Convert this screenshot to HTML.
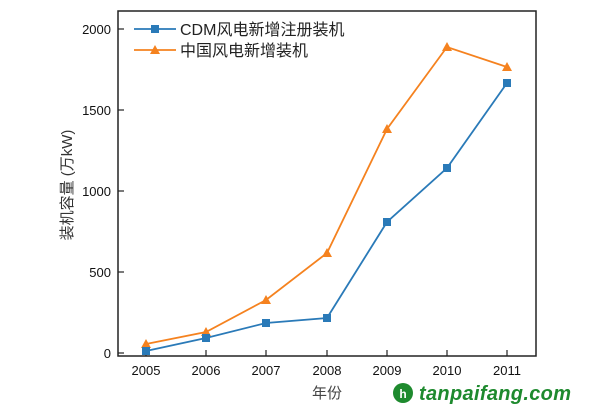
<!DOCTYPE html>
<html><head><meta charset="utf-8"><style>
html,body{margin:0;padding:0;background:#fff;width:600px;height:413px;overflow:hidden}
</style></head><body>
<svg width="600" height="413" viewBox="0 0 600 413" xmlns="http://www.w3.org/2000/svg" font-family="'Liberation Sans','Noto Sans CJK SC',sans-serif">
<rect x="118" y="11" width="418" height="345" fill="none" stroke="#222" stroke-width="1.5"/>
<g stroke="#222" stroke-width="1.2">
<line x1="118" y1="353" x2="124" y2="353"/><line x1="118" y1="272" x2="124" y2="272"/>
<line x1="118" y1="191" x2="124" y2="191"/><line x1="118" y1="110" x2="124" y2="110"/>
<line x1="118" y1="29" x2="124" y2="29"/>
<line x1="146" y1="356" x2="146" y2="350"/><line x1="206" y1="356" x2="206" y2="350"/>
<line x1="266" y1="356" x2="266" y2="350"/><line x1="327" y1="356" x2="327" y2="350"/>
<line x1="387" y1="356" x2="387" y2="350"/><line x1="447" y1="356" x2="447" y2="350"/>
<line x1="507" y1="356" x2="507" y2="350"/>
</g>
<g font-size="13" fill="#111" text-anchor="end">
<text x="111" y="358">0</text><text x="111" y="277">500</text><text x="111" y="196">1000</text>
<text x="111" y="115">1500</text><text x="111" y="34">2000</text>
</g>
<g font-size="13" fill="#111" text-anchor="middle">
<text x="146" y="375">2005</text><text x="206" y="375">2006</text><text x="266" y="375">2007</text>
<text x="327" y="375">2008</text><text x="387" y="375">2009</text><text x="447" y="375">2010</text><text x="507" y="375">2011</text>
</g>
<text x="327" y="398" font-size="15" fill="#444" text-anchor="middle">年份</text>
<text transform="translate(72,185) rotate(-90)" font-size="15" fill="#333" text-anchor="middle">装机容量 (万kW)</text>
<polyline fill="none" stroke="#f5821f" stroke-width="1.8" points="146,344 206,332 266,300 327,253 387,129 447,47 507,67"/>
<g fill="#f5821f">
<polygon points="146,339 141,348 151,348"/><polygon points="206,327 201,336 211,336"/>
<polygon points="266,295 261,304 271,304"/><polygon points="327,248 322,257 332,257"/>
<polygon points="387,124 382,133 392,133"/><polygon points="447,42 442,51 452,51"/>
<polygon points="507,62 502,71 512,71"/>
</g>
<polyline fill="none" stroke="#2a7ab8" stroke-width="1.8" points="146,351 206,338 266,323 327,318 387,222 447,168 507,83"/>
<g fill="#2a7ab8">
<rect x="142" y="347" width="8" height="8"/><rect x="202" y="334" width="8" height="8"/>
<rect x="262" y="319" width="8" height="8"/><rect x="323" y="314" width="8" height="8"/>
<rect x="383" y="218" width="8" height="8"/><rect x="443" y="164" width="8" height="8"/>
<rect x="503" y="79" width="8" height="8"/>
</g>
<line x1="134" y1="29" x2="176" y2="29" stroke="#2a7ab8" stroke-width="1.8"/>
<rect x="151" y="25" width="8" height="8" fill="#2a7ab8"/>
<text x="180" y="35" font-size="16" fill="#222">CDM风电新增注册装机</text>
<line x1="134" y1="50" x2="176" y2="50" stroke="#f5821f" stroke-width="1.8"/>
<polygon points="155,45 150,54 160,54" fill="#f5821f"/>
<text x="180" y="56" font-size="16" fill="#222">中国风电新增装机</text>
<circle cx="403" cy="393" r="10" fill="#1e8a2e"/>
<text x="403" y="398" font-size="12" font-weight="bold" fill="#fff" text-anchor="middle">h</text>
<text x="419" y="400" font-size="20" font-weight="bold" font-style="italic" fill="#1e8a2e" textLength="152">tanpaifang.com</text>
</svg>
</body></html>
